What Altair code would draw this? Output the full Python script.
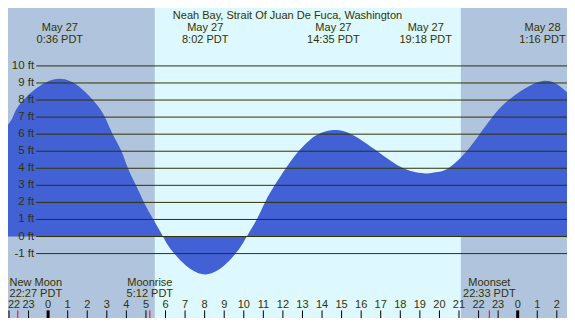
import altair as alt
import pandas as pd

# ---- data ----
tide_hours = [-2.05, -1.8, -1.26, 0.6, 2.29, 2.9, 3.3, 3.75, 4.08, 4.49, 4.90,
              5.38, 5.87, 6.45, 8.03, 9.58, 10.15, 10.66, 11.08, 11.58, 12.15,
              12.80, 13.35, 13.80, 14.58, 15.50, 16.83, 18.16, 19.30, 19.81, 20.45,
              21.39, 22.05, 22.71, 23.54, 25.27, 26.52]
tide_feet = [6.55, 7.0, 8.0, 9.25, 8.0, 7.0, 6.0, 5.0, 4.0, 3.0, 2.0,
             1.0, 0.0, -1.0, -2.22, -1.0, 0.0, 1.0, 2.0, 3.0, 4.0,
             5.0, 5.63, 6.0, 6.24, 6.0, 5.0, 4.0, 3.7, 3.77, 4.0,
             5.0, 6.0, 7.0, 8.0, 9.12, 8.45]

sky_start = [-2.05, 5.45, 21.10]
sky_end = [5.45, 21.10, 26.52]
sky_kind = ["night", "day", "night"]

ft_levels = [-1, 0, 1, 2, 3, 4, 5, 6, 7, 8, 9, 10]

extreme_hours = [0.6, 8.03, 14.58, 19.3, 25.27]
extreme_date = ["May 27", "May 27", "May 27", "May 27", "May 28"]
extreme_time = ["0:36 PDT", "8:02 PDT", "14:35 PDT", "19:18 PDT", "1:16 PDT"]

tick_hours = list(range(-2, 27))

moon_hours = [-1.55, 5.2, 22.55]
moon_name = ["New Moon", "Moonrise", "Moonset"]
moon_time = ["22:27 PDT", "5:12 PDT", "22:33 PDT"]

TITLE = "Neah Bay, Strait Of Juan De Fuca, Washington"

# ---- layout / style ----
W, H = 559, 310          # whole drawing fits inside the page margin
SX, SY = W / 575, H / 326


def px(v):
    return v * SX


def py(v):
    return v * SY


XDOM = [-2.05, 26.52]
YDOM = [-4.776, 13.395]
TXT = "#333300"
FONT = "Liberation Sans"
FS = 11

xs = alt.Scale(domain=XDOM, range=[0, W], nice=False, zero=False)
ys = alt.Scale(domain=YDOM, range=[H, 0], nice=False, zero=False)

sky = pd.DataFrame({"s": sky_start, "e": sky_end, "k": sky_kind})
tide = pd.DataFrame({"h": tide_hours, "ft": tide_feet})
levels = pd.DataFrame({"ft": ft_levels, "lab": [f"{v} ft" for v in ft_levels]})
ext = pd.DataFrame({"h": extreme_hours, "d": extreme_date, "t": extreme_time})
ticks = pd.DataFrame({"h": tick_hours,
                      "lab": [str(h % 24) for h in tick_hours],
                      "w": [3 if h % 24 == 0 else 1 for h in tick_hours]})
ticks_first = ticks.iloc[:1]
ticks_rest = ticks.iloc[1:]
moon = pd.DataFrame({"h": moon_hours, "n": moon_name, "t": moon_time})
moon_first = moon.iloc[:1]
moon_rest = moon.iloc[1:]


def X(f):
    return alt.X(f, type="quantitative", scale=xs, axis=None)


def txt(**kw):
    base = dict(baseline="alphabetic", font=FONT, fontSize=FS, color=TXT)
    base.update(kw)
    return base


bg = alt.Chart(sky).mark_rect().encode(
    x=X("s"), x2="e", y=alt.value(0), y2=alt.value(H),
    color=alt.Color("k:N", scale=alt.Scale(domain=["night", "day"],
                                           range=["#B0C4DE", "#DDF8FF"]), legend=None))

area = alt.Chart(tide).mark_area(interpolate="natural", color="#4161D5").encode(
    x=X("h"), y=alt.Y("ft:Q", scale=ys, axis=None), y2=alt.value(H))

lines = alt.Chart(levels).mark_rule(color=TXT, strokeWidth=1).encode(
    y=alt.Y("ft:Q", scale=ys), x=alt.value(px(29)), x2=alt.value(W))

ylab = alt.Chart(levels).mark_text(**txt(align="right", baseline="middle", fontSize=11.5)).encode(
    y=alt.Y("ft:Q", scale=ys), x=alt.value(px(27)), text="lab:N")

title = alt.Chart(pd.DataFrame({"t": [TITLE]})).mark_text(**txt(align="center")).encode(
    x=alt.value(W / 2), y=alt.value(py(12)), text="t:N")

ext_d = alt.Chart(ext).mark_text(**txt(align="center")).encode(
    x=X("h"), y=alt.value(py(24)), text="d:N")
ext_t = alt.Chart(ext).mark_text(**txt(align="center")).encode(
    x=X("h"), y=alt.value(py(36.5)), text="t:N")

tk = alt.Chart(ticks).mark_rule(color="black").encode(
    x=X("h"), y=alt.value(py(318)), y2=alt.value(H),
    strokeWidth=alt.StrokeWidth("w:Q", scale=None))
tklab1 = alt.Chart(ticks_first).mark_text(**txt(align="left", dx=-1)).encode(
    x=X("h"), y=alt.value(py(316)), text="lab:N")
tklab = alt.Chart(ticks_rest).mark_text(**txt(align="center")).encode(
    x=X("h"), y=alt.value(py(316)), text="lab:N")

mtk = alt.Chart(moon).mark_rule(color="red", strokeWidth=1).encode(
    x=X("h"), y=alt.value(py(318)), y2=alt.value(H))

mn1 = alt.Chart(moon_first).mark_text(**txt(align="left", dx=-px(8.5))).encode(
    x=X("h"), y=alt.value(py(292)), text="n:N")
mt1 = alt.Chart(moon_first).mark_text(**txt(align="left", dx=-px(8.5))).encode(
    x=X("h"), y=alt.value(py(303.5)), text="t:N")
mn2 = alt.Chart(moon_rest).mark_text(**txt(align="center")).encode(
    x=X("h"), y=alt.value(py(292)), text="n:N")
mt2 = alt.Chart(moon_rest).mark_text(**txt(align="center")).encode(
    x=X("h"), y=alt.value(py(303.5)), text="t:N")

chart = alt.layer(bg, area, lines, ylab, title, ext_d, ext_t, tk, tklab1, tklab, mtk,
                  mn1, mt1, mn2, mt2).properties(
    width=W, height=H, padding=0, background="#B0C4DE",
    autosize=alt.AutoSizeParams(type="none")
).configure_view(stroke=None, clip=True)

chart.save("out.html", embed_options={"renderer": "svg", "actions": False})
